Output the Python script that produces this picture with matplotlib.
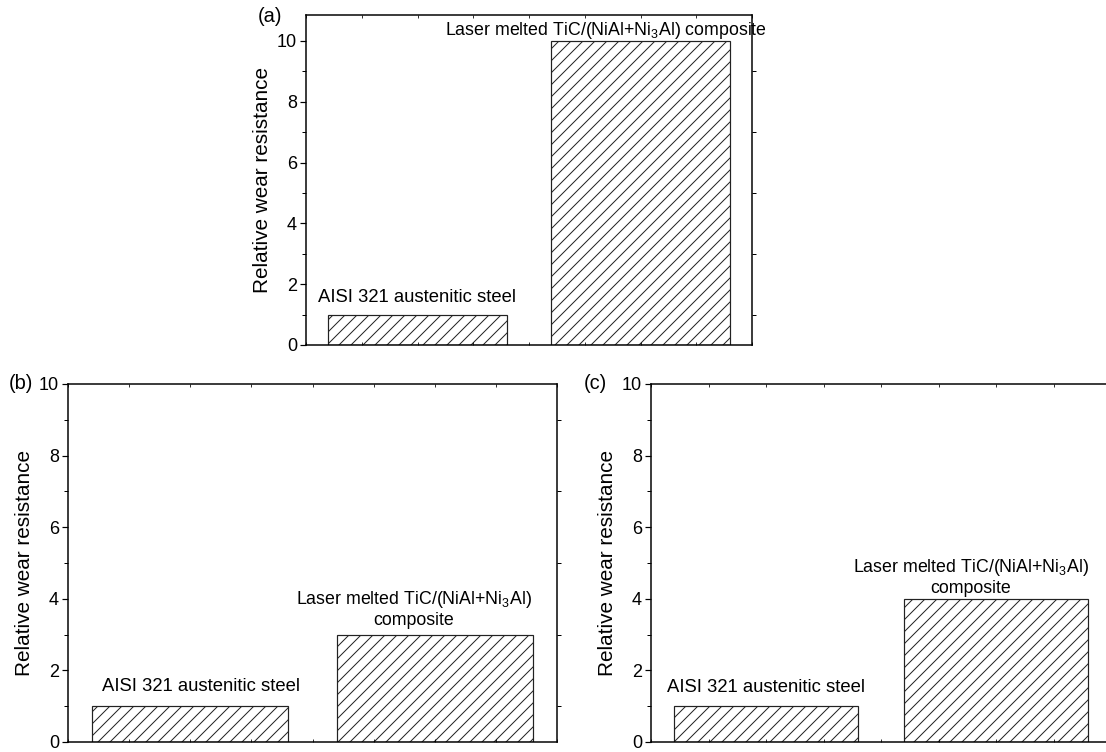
import matplotlib
matplotlib.use('Agg')
import matplotlib.pyplot as plt
from matplotlib.ticker import MultipleLocator, NullLocator

# data
materials = ['AISI 321 austenitic steel',
             'Laser melted TiC/(NiAl+Ni$_\\mathregular{3}$Al)\ncomposite']
panel_tags = ['(a)', '(b)', '(c)']
wear_a = [1, 10]
wear_b = [1, 3]
wear_c = [1, 4]

plt.rcParams['font.family'] = ['Liberation Sans', 'DejaVu Sans']
plt.rcParams['mathtext.fontset'] = 'custom'
plt.rcParams['mathtext.rm'] = 'Liberation Sans'
plt.rcParams['hatch.color'] = 'black'
plt.rcParams['hatch.linewidth'] = 1.0

DPI = 72
fig = plt.figure(figsize=(1106 / DPI, 752 / DPI), dpi=DPI)


def panel(rect, values, tag, ytop, steel_x, steel_off, comp_x, comp_off, comp_text, comp_va, tag_xy):
    ax = fig.add_axes(rect)
    x = [1, 2]
    ax.bar(x, values, width=0.8, color='white', edgecolor='#222222',
           linewidth=1.2, hatch='//')
    ax.set_xlim(0.5, 2.5)
    ax.set_ylim(0, ytop)
    ax.yaxis.set_major_locator(MultipleLocator(2))
    ax.yaxis.set_minor_locator(MultipleLocator(1))
    ax.xaxis.set_major_locator(NullLocator())
    ax.xaxis.set_minor_locator(MultipleLocator(0.25))
    ax.tick_params(axis='y', which='major', direction='out', length=6, width=1.2,
                   labelsize=18, pad=3)
    ax.tick_params(axis='y', which='minor', direction='out', length=4, width=1.0,
                   right=True)
    ax.tick_params(axis='x', which='minor', direction='in', length=3, width=0.8,
                   top=True, bottom=True)
    for s in ax.spines.values():
        s.set_linewidth(1.5)
    ax.set_ylabel('Relative wear resistance', fontsize=20.8, labelpad=5)

    ax.annotate(materials[0], xy=(steel_x, values[0]), xytext=(0, steel_off),
                textcoords='offset points', ha='center', va='baseline', fontsize=18.5)
    ax.annotate(comp_text, xy=(comp_x, values[1]), xytext=(0, comp_off),
                textcoords='offset points', ha='center', va=comp_va, fontsize=17.8,
                linespacing=1.15, annotation_clip=False)
    fig.text(tag_xy[0] / 1106, 1 - tag_xy[1] / 752, tag, fontsize=20,
             ha='center', va='center')
    return ax


panel([306 / 1106, 1 - 345 / 752, 446 / 1106, 330 / 752], wear_a, panel_tags[0], 10.85,
      1.0, 13, 1.845, 6, materials[1].replace('\n', ' '), 'baseline', (270, 17))
panel([68 / 1106, 1 - 742 / 752, 489 / 1106, 358 / 752], wear_b, panel_tags[1], 10,
      1.044, 15, 1.915, 6, materials[1], 'bottom', (21, 384))
ax_c = panel([651 / 1106, 1 - 742 / 752, 460 / 1106, 358 / 752], wear_c, panel_tags[2], 10,
             1.0, 14, 1.89, 2, materials[1], 'bottom', (595, 384))
ax_c.spines['right'].set_visible(False)

fig.savefig('out.png', dpi=DPI)
